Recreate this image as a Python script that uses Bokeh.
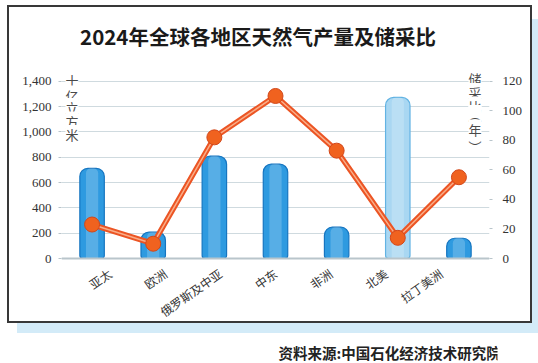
from bokeh.plotting import figure
from bokeh.models import (Range1d, LinearAxis, CategoricalAxis, FixedTicker,
                          NumeralTickFormatter, Label, FactorRange)
from bokeh.layouts import column
from bokeh.embed import file_html
from bokeh.resources import INLINE

# ---------------- data ----------------
title_text = "2024年全球各地区天然气产量及储采比"
source_text = "资料来源:中国石化经济技术研究院"
regions = ["亚太", "欧洲", "俄罗斯及中亚", "中东", "非洲", "北美", "拉丁美洲"]
production = [712, 208, 808, 745, 247, 1272, 160]   # 十亿立方米
rp_ratio = [23, 10, 82, 110, 73, 14, 55]            # 储采比（年）
left_ticks = [0, 200, 400, 600, 800, 1000, 1200, 1400]
right_ticks = [0, 20, 40, 60, 80, 100, 120]
left_unit = "十亿立方米"
right_unit = "储采比︵年︶"
highlight_region = "北美"

# ---------------- styles / layout ----------------
W = 521          # canvas inside the 2px box frame (page x 9..530)
H_CHART = 314    # page y 7..321
H_SRC = 42
BORDER_L, BORDER_R, BORDER_T, BORDER_B = 52, 41, 6, 0
Y_TOP_PX = 73.7     # canvas y of the top tick
Y_ZERO_PX = 251.0   # canvas y of zero
k_left = left_ticks[-1] / (Y_ZERO_PX - Y_TOP_PX)
left_start = -(H_CHART - BORDER_B - Y_ZERO_PX) * k_left
left_end = left_ticks[-1] + (Y_TOP_PX - BORDER_T) * k_left
ratio = right_ticks[-1] / left_ticks[-1]
LABEL_PAD = 0.1077   # padding of the (slightly tighter) tick-label scale
LABEL_ANGLE = 0.61   # radians

CJK = "Noto Sans CJK SC"
SERIF = "Liberation Serif"
bar_fill = ["#a9d7f2" if r == highlight_region else "#2e9ae0" for r in regions]
bar_edge = ["#62b3e3" if r == highlight_region else "#1675c0" for r in regions]
# label positions in px from the frame's bottom-left corner
title_xy = (196.5, 286)
left_unit_x, left_unit_y = 10.5, [241, 226.5, 214, 200.5, 187]
right_unit_x, right_unit_y = 413.5, [243, 229, 215.5, 207, 192.5, 175]

p = figure(width=W, height=H_CHART,
           x_range=FactorRange(factors=regions),
           y_range=Range1d(left_start, left_end),
           output_backend="svg", toolbar_location=None,
           min_border_left=BORDER_L, min_border_right=BORDER_R,
           min_border_top=BORDER_T, min_border_bottom=BORDER_B)
p.margin = (7, 0, 0, 9)
p.extra_y_ranges = {"rp": Range1d(left_start * ratio, left_end * ratio)}
p.extra_x_ranges = {"labels": FactorRange(factors=regions, range_padding=LABEL_PAD)}
p.styles = {"box-shadow": "0 0 0 2px #383838, 8px 12px 0 0 #d3ebf8"}
p.outline_line_color = None
p.background_fill_color = "white"
p.border_fill_color = "white"

# grid
p.xgrid.grid_line_color = None
p.ygrid.grid_line_color = "#cfdadf"
p.ygrid.grid_line_width = 1.2

# left axis
ya = p.yaxis[0]
ya.ticker = FixedTicker(ticks=left_ticks)
ya.formatter = NumeralTickFormatter(format="0,0")
ya.axis_line_color = None
ya.major_tick_line_color = "#b9c5cb"
ya.major_tick_in = 0
ya.major_tick_out = 3
ya.minor_tick_line_color = None
ya.major_label_standoff = 7
ya.major_label_text_font = SERIF
ya.major_label_text_font_size = "13px"
ya.major_label_text_color = "#333333"

# right axis
ra = LinearAxis(y_range_name="rp", ticker=FixedTicker(ticks=right_ticks))
ra.axis_line_color = None
ra.major_tick_line_color = "#b9c5cb"
ra.major_tick_in = 0
ra.major_tick_out = 3
ra.minor_tick_line_color = None
ra.major_label_standoff = 10
ra.major_label_text_font = SERIF
ra.major_label_text_font_size = "13px"
ra.major_label_text_color = "#333333"
p.add_layout(ra, "right")

# x axis: drawn at y = 0 inside the frame, on a slightly tighter label scale
p.xaxis[0].visible = False
xa = CategoricalAxis(x_range_name="labels", fixed_location=0)
xa.axis_line_color = "#b9c5cb"
xa.axis_line_width = 2
xa.major_tick_line_color = None
xa.major_label_orientation = LABEL_ANGLE
xa.major_label_standoff = 7
xa.major_label_text_font = CJK
xa.major_label_text_font_size = "12px"
xa.major_label_text_color = "#333333"
p.add_layout(xa, "below")

# bars (glass look)
p.vbar(x=regions, top=production, bottom=0, width=0.4,
       fill_color=bar_fill, line_color=bar_edge, line_width=1.2,
       border_radius=(8, 8, 3, 3))
p.vbar(x=regions, top=production, bottom=0, width=0.2,
       fill_color="white", fill_alpha=0.2, line_color=None,
       border_radius=(5, 5, 0, 0))

# reserve/production ratio line
p.line(x=regions, y=rp_ratio, y_range_name="rp", line_width=5.5, line_color="#ec5524")
p.line(x=regions, y=rp_ratio, y_range_name="rp", line_width=1.5, line_color="#fbb793", line_alpha=0.9)
p.scatter(x=regions, y=rp_ratio, y_range_name="rp", size=15,
          fill_color="#f0621f", line_color="#d2471a", line_width=1)

# title
p.add_layout(Label(x=title_xy[0], y=title_xy[1], x_units="screen", y_units="screen",
                   text=title_text, text_align="center", text_baseline="middle",
                   text_font=CJK, text_font_style="bold", text_font_size="20.5px",
                   text_color="#1a1a1a"))

# vertical unit labels, one character per label
for ch, yy in zip(left_unit, left_unit_y):
    p.add_layout(Label(x=left_unit_x, y=yy, x_units="screen", y_units="screen",
                       text=ch, text_align="center", text_baseline="middle",
                       text_font=CJK, text_font_size="13px", text_color="#4a4a4a",
                       background_fill_color="white"))
for ch, yy in zip(right_unit, right_unit_y):
    p.add_layout(Label(x=right_unit_x, y=yy, x_units="screen", y_units="screen",
                       text=ch, text_align="center", text_baseline="middle",
                       text_font=CJK, text_font_size="13px", text_color="#4a4a4a",
                       background_fill_color="white"))

# source line below the box (its frame is aligned with the chart's frame)
p2 = figure(width=538, height=H_SRC, output_backend="svg", toolbar_location=None,
            x_range=Range1d(0, 1), y_range=Range1d(0, 1), min_border=0,
            x_axis_location=None, y_axis_location=None)
p2.grid.visible = False
p2.outline_line_color = None
p2.background_fill_color = None
p2.border_fill_color = None
p2.add_layout(Label(x=278 - BORDER_L, y=11, x_units="screen", y_units="screen",
                    text=source_text, text_align="left", text_baseline="middle",
                    text_font=CJK, text_font_style="bold", text_font_size="14.5px",
                    text_color="#222222"))

layout = column(p, p2, spacing=0)
open("out.html", "w").write(file_html(layout, INLINE))
